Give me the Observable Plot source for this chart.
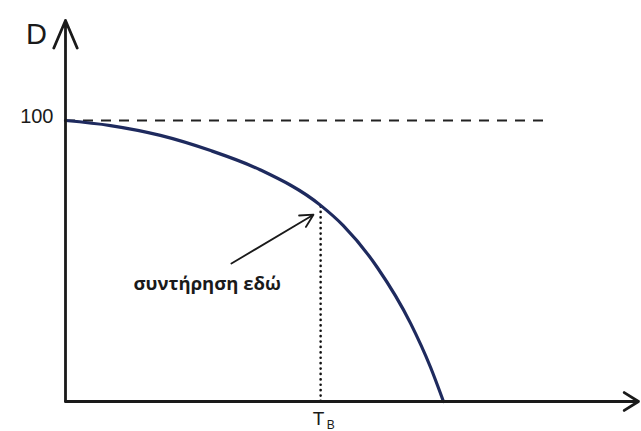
<!DOCTYPE html>
<html>
<head>
<meta charset="utf-8">
<script src="https://cdn.jsdelivr.net/npm/d3@7"></script>
<script src="https://cdn.jsdelivr.net/npm/@observablehq/plot@0.6"></script>
<style>
  html, body { margin: 0; padding: 0; background: #fff; }
  #chart svg { display: block; }
</style>
</head>
<body>
<div id="chart"></div>
<script>
// Curve (time t, D value)
const curveT = [0, 11.9, 25.1, 38.4, 51.6, 67.5, 73.5, 82.5, 91.3, 96.6, 100];
const curveD = [100, 98.2, 94.7, 89.3, 82.4, 69.8, 62.6, 47.7, 27.8, 12.1, 0];

// Reference level and marked point
const refLevel = 100;
const refEnd = 127;
const tB = 67.5;
const dB = 69.8;

// Axis extents
const xMax = 151.6;
const yMax = 135.6;

// Annotation arrow
const noteFrom = [43.9, 49.1];
const noteTo = [65.6, 66.5];
const noteText = "συντήρηση εδώ";
const noteAt = [18.0, 40.6];

// Labels
const yLabel = "D";
const yTickLabel = "100";
const xTickMain = "T";
const xTickSub = "B";

const curve = curveT.map((t, i) => ({t, d: curveD[i]}));

const chart = Plot.plot({
  width: 641,
  height: 431,
  marginLeft: 65,
  marginRight: 3,
  marginTop: 20,
  marginBottom: 30,
  x: {domain: [0, xMax], axis: null},
  y: {domain: [0, yMax], axis: null},
  style: {fontFamily: "'Liberation Sans', Arial, sans-serif", background: "#fff"},
  marks: [
    // dashed reference
    Plot.ruleY([refLevel], {x1: 0, x2: refEnd, stroke: "#222", strokeWidth: 2, strokeDasharray: "10,8"}),
    // dotted vertical
    Plot.ruleX([tB], {y1: 0, y2: dB, stroke: "#111", strokeWidth: 2.6, strokeDasharray: "0.1,5.3", strokeLinecap: "round"}),
    // curve
    Plot.line(curve, {x: "t", y: "d", curve: "monotone-x", stroke: "#1e2a5e", strokeWidth: 3.2}),
    // axes as arrows
    Plot.arrow([{x1: 0, y1: 0, x2: xMax, y2: 0}], {x1: "x1", y1: "y1", x2: "x2", y2: "y2", stroke: "#1a1a1a", strokeWidth: 2.8, headLength: 9, headAngle: 64}),
    Plot.arrow([{x1: 0, y1: 0, x2: 0, y2: yMax}], {x1: "x1", y1: "y1", x2: "x2", y2: "y2", stroke: "#1a1a1a", strokeWidth: 2.8, headLength: 16, headAngle: 46}),
    // annotation arrow
    Plot.arrow([{x1: noteFrom[0], y1: noteFrom[1], x2: noteTo[0], y2: noteTo[1]}], {x1: "x1", y1: "y1", x2: "x2", y2: "y2", stroke: "#1a1a1a", strokeWidth: 1.8, headLength: 12, headAngle: 55}),
    Plot.text([noteText], {x: noteAt[0], y: noteAt[1], text: d => d, textAnchor: "start", lineAnchor: "bottom", dy: 3, fontSize: 18.5, fontWeight: "bold", fontFamily: "'Open Sans', sans-serif", fill: "#1a1a1a"}),
    // labels
    Plot.text([yLabel], {x: 0, y: yMax, text: d => d, dx: -29, dy: 14, fontSize: 29, fill: "#1a1a1a", lineAnchor: "middle"}),
    Plot.text([yTickLabel], {x: 0, y: refLevel, text: d => d, dx: -12, dy: -4, textAnchor: "end", fontSize: 20, fill: "#1a1a1a", lineAnchor: "middle"}),
    Plot.text([xTickMain], {x: tB, y: 0, text: d => d, dx: -2, dy: 17, fontSize: 19, fill: "#1a1a1a", lineAnchor: "middle"}),
    Plot.text([xTickSub], {x: tB, y: 0, text: d => d, dx: 10, dy: 24, fontSize: 12, fill: "#1a1a1a", lineAnchor: "middle"})
  ]
});
document.getElementById("chart").appendChild(chart);
</script>
</body>
</html>
